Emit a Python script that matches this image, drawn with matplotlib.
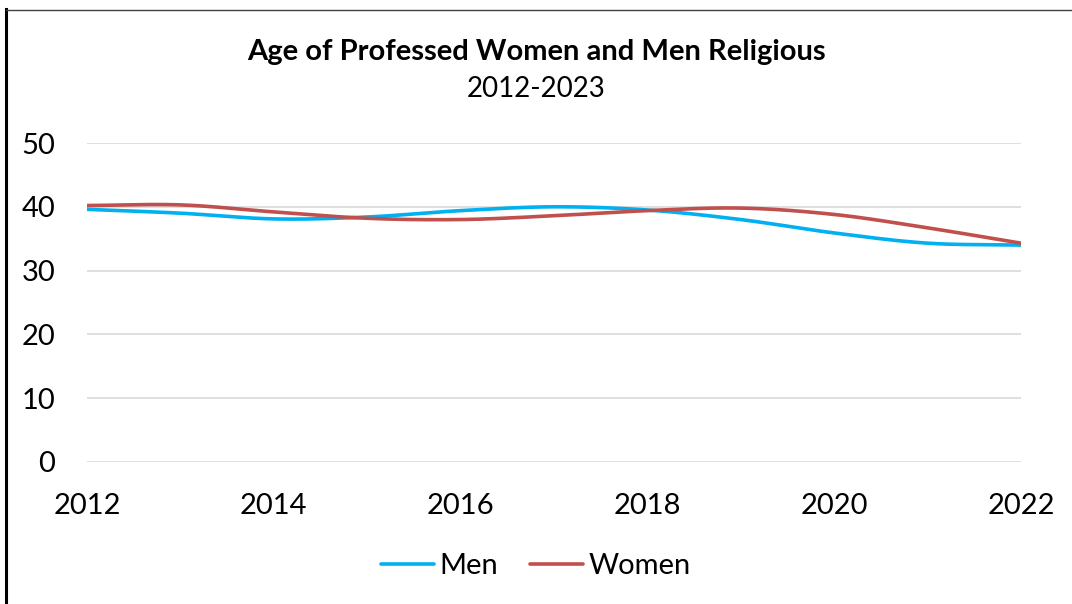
import numpy as np
import matplotlib
matplotlib.use("Agg")
from matplotlib import pyplot as plt
from matplotlib.lines import Line2D

years = [2012, 2013, 2014, 2015, 2016, 2017, 2018, 2019, 2020, 2021, 2022]
men = [39.6, 39.0, 38.1, 38.4, 39.4, 40.0, 39.5, 38.0, 35.9, 34.3, 34.0]
women = [40.2, 40.3, 39.2, 38.2, 38.0, 38.6, 39.4, 39.8, 38.8, 36.7, 34.3]
xticks = [2012, 2014, 2016, 2018, 2020, 2022]
yticks = [0, 10, 20, 30, 40, 50]

plt.rcParams['font.family'] = ['Lato', 'DejaVu Sans']


def smooth(x, y, n=30):
    # catmull-rom, roughly what excel does for "smoothed line"
    x = np.asarray(x, float)
    y = np.asarray(y, float)
    px = np.concatenate([[2 * x[0] - x[1]], x, [2 * x[-1] - x[-2]]])
    py = np.concatenate([[2 * y[0] - y[1]], y, [2 * y[-1] - y[-2]]])
    xs, ys = [], []
    t = np.linspace(0, 1, n, endpoint=False)
    for i in range(1, len(px) - 2):
        for arr, out in ((px, xs), (py, ys)):
            p0, p1, p2, p3 = arr[i - 1], arr[i], arr[i + 1], arr[i + 2]
            out.extend(0.5 * ((2 * p1) + (-p0 + p2) * t
                              + (2 * p0 - 5 * p1 + 4 * p2 - p3) * t ** 2
                              + (-p0 + 3 * p1 - 3 * p2 + p3) * t ** 3))
    xs.append(x[-1])
    ys.append(y[-1])
    return xs, ys


W, H = 1072, 604
fig = plt.figure(figsize=(W / 100, H / 100), dpi=100)
ax = fig.add_axes([87 / W, 1 - 462 / H, (1021 - 87) / W, (462 - 143) / H])

mx, my = smooth(years, men)
wx, wy = smooth(years, women)
ax.plot(mx, my, color='#00B0F0', lw=2.6, label='Men', solid_capstyle='round')
ax.plot(wx, wy, color='#C0504D', lw=2.6, label='Women', solid_capstyle='round')

ax.set_xlim(2012, 2022)
ax.set_ylim(0, 50)
ax.set_xticks(xticks)
ax.set_yticks(yticks)
ax.tick_params(length=0, labelsize=21, colors='black')
ax.tick_params(axis='x', pad=22)
ax.tick_params(axis='y', pad=23)
ax.grid(axis='y', color='#D9D9D9', lw=1.2)
ax.set_axisbelow(True)
for s in ax.spines.values():
    s.set_visible(False)

fig.text(0.5, 1 - 52 / H, 'Age of Professed Women and Men Religious',
         ha='center', va='center', fontsize=21, fontweight='bold')
fig.text(0.5, 1 - 89 / H, '2012-2023', ha='center', va='center', fontsize=20)

fig.legend(loc='center', bbox_to_anchor=(0.5, 1 - 566 / H), ncol=2,
           frameon=False, fontsize=21, handlelength=1.8, handletextpad=0.2,
           columnspacing=1.1)

# frame edges of the original picture
fig.add_artist(Line2D([6 / W, 6 / W], [0, 1 - 9 / H], color='black', lw=2.2))
fig.add_artist(Line2D([6 / W, 1], [1 - 9.5 / H, 1 - 9.5 / H], color='#404040', lw=1))

fig.savefig('out.png', dpi=100)
